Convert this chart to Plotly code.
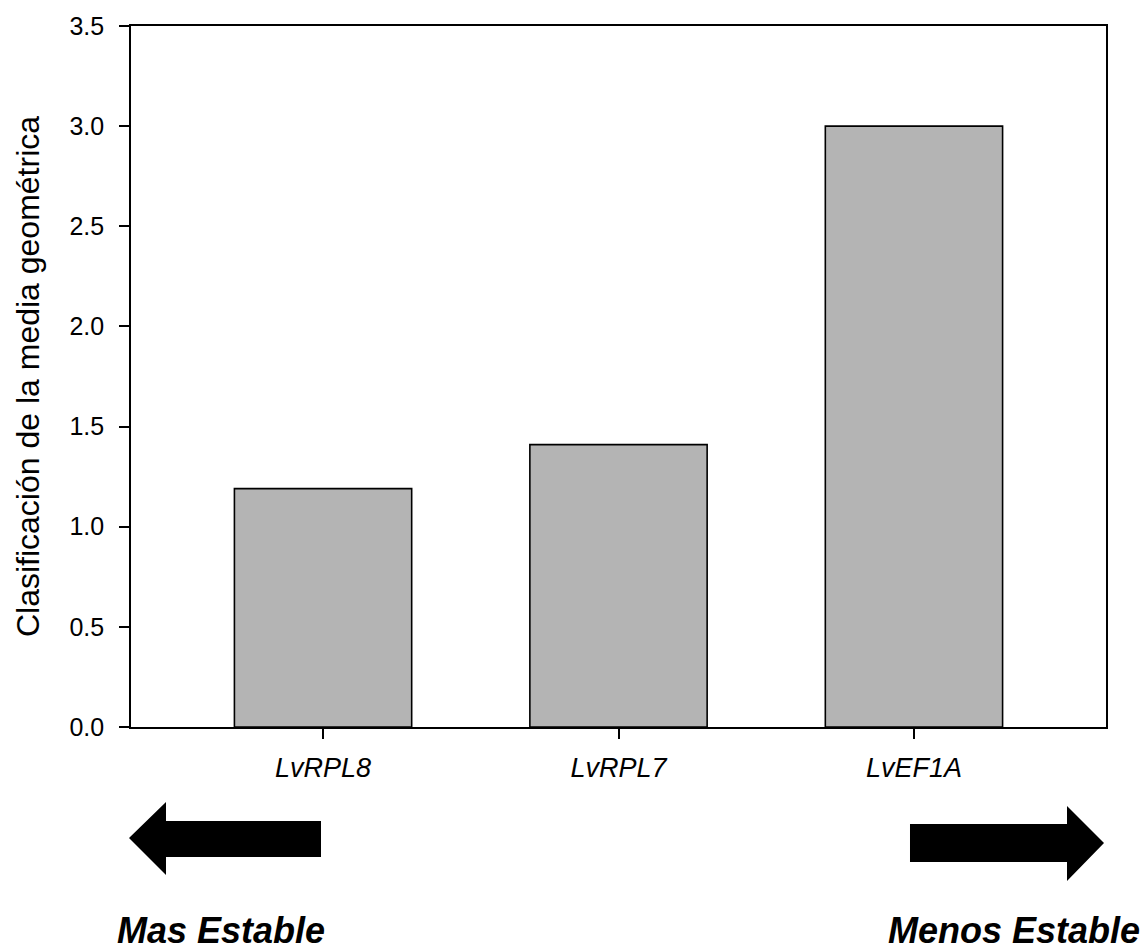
import plotly.graph_objects as go

genes = ["LvRPL8", "LvRPL7", "LvEF1A"]
ranking = [1.19, 1.41, 3.0]
y_ticks = [0.0, 0.5, 1.0, 1.5, 2.0, 2.5, 3.0, 3.5]
y_title = "Clasificación de la media geométrica"
left_label = "Mas Estable"
right_label = "Menos Estable"

W, H = 1145, 952
L, R, T, B = 131, 39, 26, 225
PW, PH = W - L - R, H - T - B


def px(x):
    return (x - L) / PW


def py(y):
    return (H - B - y) / PH


def poly(points):
    return "M " + " L ".join(f"{px(a):.5f},{py(b):.5f}" for a, b in points) + " Z"


font = "Arial, Liberation Sans, sans-serif"

fig = go.Figure(
    go.Bar(
        x=genes,
        y=ranking,
        width=0.6,
        marker=dict(color="#b4b4b4", line=dict(color="black", width=1.6)),
    )
)

left_arrow = [(129, 838), (166, 802), (166, 821), (321, 821), (321, 857),
              (166, 857), (166, 875)]
right_arrow = [(910, 824), (1067, 824), (1067, 806), (1104, 843), (1067, 881),
               (1067, 862), (910, 862)]

shapes = [
    dict(type="path", xref="paper", yref="paper", path=poly(left_arrow),
         fillcolor="black", line=dict(width=0)),
    dict(type="path", xref="paper", yref="paper", path=poly(right_arrow),
         fillcolor="black", line=dict(width=0)),
]

annotations = [
    dict(text=f"<b><i>{left_label}</i></b>", xref="paper", yref="paper",
         x=px(115), y=py(930), xanchor="left", yanchor="middle", showarrow=False,
         font=dict(family=font, size=36, color="black")),
    dict(text=f"<b><i>{right_label}</i></b>", xref="paper", yref="paper",
         x=px(1142), y=py(930), xanchor="right", yanchor="middle", showarrow=False,
         font=dict(family=font, size=36, color="black")),
]

fig.update_layout(
    width=W, height=H,
    margin=dict(l=L, r=R, t=T, b=B),
    paper_bgcolor="white", plot_bgcolor="white",
    showlegend=False,
    font=dict(family=font, color="black"),
    shapes=shapes,
    annotations=annotations,
    xaxis=dict(
        type="category", range=[-0.65, 2.65],
        showline=True, linecolor="black", linewidth=1.6, mirror=True,
        ticks="outside", ticklen=10, tickwidth=1.6, tickcolor="black",
        tickfont=dict(family=font, size=27, color="black"),
        tickvals=genes, ticktext=[f"<i>{g}</i>" for g in genes],
        ticklabelstandoff=6,
        showgrid=False, zeroline=False,
    ),
    yaxis=dict(
        range=[0, 3.5],
        tickvals=y_ticks, ticktext=[f"{v:.1f}" for v in y_ticks],
        showline=True, linecolor="black", linewidth=1.6, mirror=True,
        ticks="outside", ticklen=10, tickwidth=1.6, tickcolor="black",
        tickfont=dict(family=font, size=25, color="black"),
        ticklabelstandoff=10,
        title=dict(text=y_title, font=dict(family=font, size=32, color="black"),
                   standoff=20),
        showgrid=False, zeroline=False,
    ),
)

fig.write_html(
    "out.html",
    config={"displayModeBar": False},
    post_script="document.body.style.margin='0';document.body.style.overflow='hidden';",
)
